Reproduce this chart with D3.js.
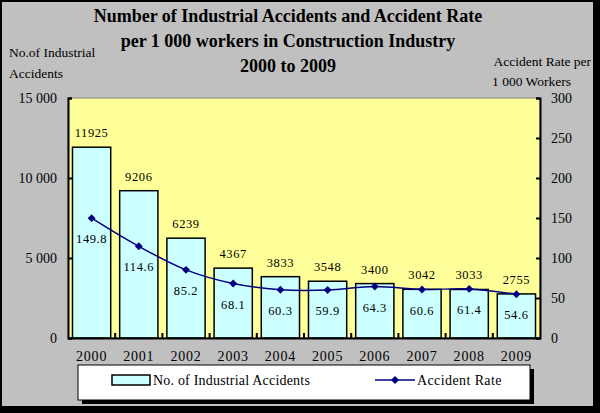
<!DOCTYPE html>
<html><head><meta charset="utf-8">
<script src="https://cdn.jsdelivr.net/npm/d3@7"></script>
<style>svg text{font-family:"Liberation Serif",serif;}</style>
</head><body style="margin:0">
<script>
const years = ["2000","2001","2002","2003","2004","2005","2006","2007","2008","2009"];
const accidents = [11925, 9206, 6239, 4367, 3833, 3548, 3400, 3042, 3033, 2755];
const rates = [149.8, 114.6, 85.2, 68.1, 60.3, 59.9, 64.3, 60.6, 61.4, 54.6];
const leftTicks = [0, 5000, 10000, 15000];
const rightTicks = [0, 50, 100, 150, 200, 250, 300];
const titleLines = ["Number of Industrial Accidents and Accident Rate", "per 1 000 workers in Construction Industry", "2000 to 2009"];

const FONT = "Liberation Serif";
const W = 600, H = 413;
const svg = d3.select("body").append("svg").attr("width", W).attr("height", H)
  .attr("font-family", FONT);

// frame
svg.append("rect").attr("x", 0).attr("y", 0).attr("width", W).attr("height", H).attr("fill", "#000");
svg.append("rect").attr("x", 2).attr("y", 2).attr("width", 591).attr("height", 404).attr("fill", "#C0C0C0");

const L = 68, R = 540, T = 98, B = 338;
const x = d3.scaleBand().domain(years).range([L, R]).paddingInner(0.19).paddingOuter(0.095);
const xb = d3.scaleBand().domain(years).range([L, R]);
const yL = d3.scaleLinear().domain([0, 15000]).range([B, T]);
const yR = d3.scaleLinear().domain([0, 300]).range([B, T]);

svg.append("rect").attr("x", L).attr("y", T).attr("width", R - L).attr("height", B - T)
  .attr("fill", "#FFFF99").attr("stroke", "#808080").attr("stroke-width", 1);

// title
titleLines.forEach((t, i) => {
  svg.append("text").attr("x", 288).attr("y", 22 + i * 25).attr("text-anchor", "middle")
    .attr("font-size", 18).attr("font-weight", "bold").text(t);
});
svg.append("text").attr("x", 9).attr("y", 57).attr("font-size", 13.5).text("No.of  Industrial");
svg.append("text").attr("x", 9).attr("y", 78).attr("font-size", 13.5).text("Accidents");
svg.append("text").attr("x", 591).attr("y", 66).attr("text-anchor", "end").attr("font-size", 13.5).text("Accident Rate per");
svg.append("text").attr("x", 492).attr("y", 86).attr("font-size", 13.5).text("1 000 Workers");

// bars
svg.append("g").selectAll("rect").data(years).join("rect")
  .attr("x", d => x(d)).attr("width", x.bandwidth())
  .attr("y", (d, i) => yL(accidents[i])).attr("height", (d, i) => B - yL(accidents[i]))
  .attr("fill", "#CCFFFF").attr("stroke", "#000").attr("stroke-width", 1.5);

// axes
const fmt = d => d === 0 ? "0" : d3.format(",")(d).replace(",", " ");
const axL = svg.append("g").attr("transform", `translate(${L},0)`)
  .call(d3.axisRight(yL).tickValues(leftTicks).tickSize(4).tickFormat(fmt));
axL.attr("font-family", FONT);
axL.select(".domain").attr("stroke-width", 2);
axL.selectAll(".tick line").attr("stroke-width", 2);
axL.selectAll("text").attr("x", -11).attr("text-anchor", "end").attr("font-size", 14);

const axR = svg.append("g").attr("transform", `translate(${R},0)`)
  .call(d3.axisLeft(yR).tickValues(rightTicks).tickSize(4));
axR.attr("font-family", FONT);
axR.select(".domain").attr("stroke-width", 2);
axR.selectAll(".tick line").attr("stroke-width", 2);
axR.selectAll("text").attr("x", 11).attr("text-anchor", "start").attr("font-size", 14);

const axB = svg.append("g").attr("transform", `translate(0,${B})`)
  .call(d3.axisBottom(xb).tickSize(0).tickPadding(13));
axB.attr("font-family", FONT);
axB.select(".domain").attr("stroke-width", 2);
axB.selectAll("text").attr("font-size", 14).attr("letter-spacing", 0.8);
svg.append("g").selectAll("line").data(years.slice(1)).join("line")
  .attr("x1", d => xb(d)).attr("x2", d => xb(d)).attr("y1", B).attr("y2", B - 5)
  .attr("stroke", "#000").attr("stroke-width", 2);

// bar labels
svg.append("g").selectAll("text").data(years).join("text")
  .attr("x", d => xb(d) + xb.bandwidth() / 2).attr("y", (d, i) => yL(accidents[i]) - 10)
  .attr("text-anchor", "middle").attr("font-size", 12.5).attr("letter-spacing", 0.6)
  .text((d, i) => accidents[i]);

// line
const pts = years.map((d, i) => [xb(d) + xb.bandwidth() / 2, yR(rates[i])]);
svg.append("path").attr("d", d3.line().curve(d3.curveCatmullRom.alpha(0.5))(pts))
  .attr("fill", "none").attr("stroke", "#000080").attr("stroke-width", 1.5);
svg.append("g").selectAll("path").data(pts).join("path")
  .attr("transform", p => `translate(${p[0]},${p[1]})`)
  .attr("d", d3.symbol(d3.symbolDiamond2, 40)).attr("fill", "#000080");
svg.append("g").selectAll("text").data(pts).join("text")
  .attr("x", p => p[0]).attr("y", p => p[1] + 25)
  .attr("text-anchor", "middle").attr("font-size", 12.5).attr("letter-spacing", 0.6)
  .text((p, i) => rates[i].toFixed(1));

// legend
svg.append("rect").attr("x", 82).attr("y", 369).attr("width", 452).attr("height", 35).attr("fill", "#000");
svg.append("rect").attr("x", 78).attr("y", 365).attr("width", 452).attr("height", 35)
  .attr("fill", "#fff").attr("stroke", "#000").attr("stroke-width", 1);
svg.append("rect").attr("x", 112).attr("y", 375).attr("width", 38).attr("height", 10)
  .attr("fill", "#CCFFFF").attr("stroke", "#000").attr("stroke-width", 1.5);
svg.append("text").attr("x", 153).attr("y", 385).attr("font-size", 14).attr("letter-spacing", 0.2).text("No. of  Industrial Accidents");
svg.append("line").attr("x1", 375).attr("x2", 415).attr("y1", 380).attr("y2", 380)
  .attr("stroke", "#000080").attr("stroke-width", 1.5);
svg.append("path").attr("transform", "translate(395,380)")
  .attr("d", d3.symbol(d3.symbolDiamond2, 40)).attr("fill", "#000080");
svg.append("text").attr("x", 417).attr("y", 385).attr("font-size", 14).attr("letter-spacing", 0.4).text("Accident Rate");

svg.selectAll("text").attr("font-family", FONT).style("fill", "#000");
</script>
</body></html>
